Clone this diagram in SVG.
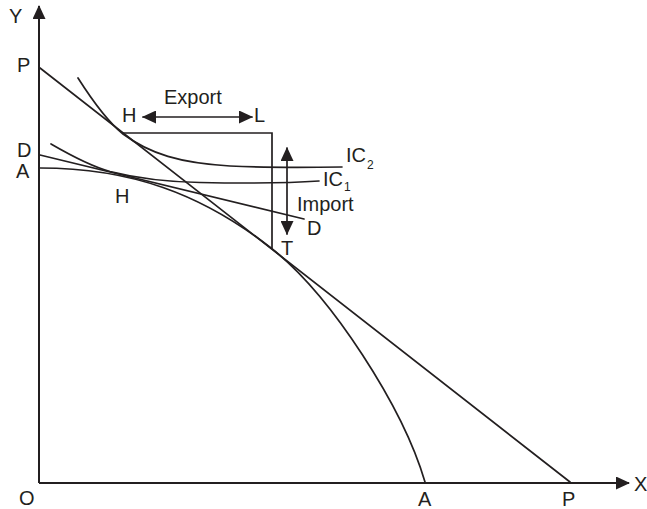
<svg xmlns="http://www.w3.org/2000/svg" width="647" height="509" viewBox="0 0 647 509">
<style>
.ln{fill:none;stroke:#231f20;stroke-width:1.7;stroke-linecap:round}
.ax{fill:none;stroke:#231f20;stroke-width:2}
.t{font-family:"Liberation Sans",Arial,sans-serif;font-size:20px;fill:#231f20}
.s{font-family:"Liberation Sans",Arial,sans-serif;font-size:12px;fill:#231f20}
</style>
<defs>
<marker id="ah" markerUnits="userSpaceOnUse" markerWidth="14" markerHeight="13" refX="13" refY="6.5" orient="auto-start-reverse" viewBox="0 0 14 13">
<path d="M0,0 L14,6.5 L0,13 Z" fill="#231f20"/>
</marker>
</defs>
<g id="axes">
<path class="ax" d="M39,483 V6" marker-end="url(#ah)"/>
<path class="ax" d="M39,483 H629" marker-end="url(#ah)"/>
</g>
<g id="curves">
<path id="PP" class="ln" d="M40,68 L570,482"/>
<path id="AA" class="ln" d="M40,168 C130,168 201,193.3 271,248 C331,295 403,407 425,482"/>
<path id="DD" class="ln" d="M40,155 L304,219"/>
<path id="IC1" class="ln" d="M51,144 C70,155 90,166 110,171.5 C140,179 170,182 200,182.5 C250,183.5 290,183 319,181"/>
<path id="IC2" class="ln" d="M78,78 C92,100 108,122 123,134 C150,154 180,163 230,166 C270,168 310,167.5 342,167"/>
<path id="trade" class="ln" d="M123,133 H272 V248"/>
<path id="export-arrow" class="ln" d="M143,117 H252" marker-start="url(#ah)" marker-end="url(#ah)"/>
<path id="import-arrow" class="ln" d="M287,148 V234" marker-start="url(#ah)" marker-end="url(#ah)"/>
</g>
<g id="labels">
<text class="t" x="9" y="23">Y</text>
<text class="t" x="17" y="72">P</text>
<text class="t" x="17" y="157">D</text>
<text class="t" x="16" y="178">A</text>
<text class="t" x="122" y="122">H</text>
<text class="t" x="164" y="104">Export</text>
<text class="t" x="254" y="122">L</text>
<text class="t" x="115" y="203">H</text>
<text class="t" x="346" y="162">IC</text><text class="s" x="367" y="169">2</text>
<text class="t" x="323" y="186">IC</text><text class="s" x="344" y="191">1</text>
<text class="t" x="297" y="211">Import</text>
<text class="t" x="307" y="235">D</text>
<text class="t" x="281" y="255">T</text>
<text class="t" x="19" y="505">O</text>
<text class="t" x="418" y="506">A</text>
<text class="t" x="562" y="506">P</text>
<text class="t" x="634" y="491">X</text>
</g>
</svg>
